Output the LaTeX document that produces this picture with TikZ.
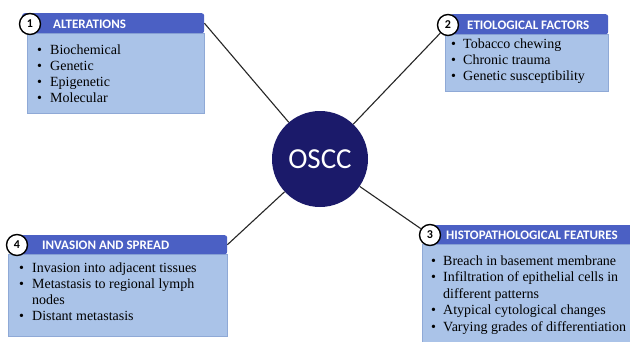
\documentclass[tikz,border=0pt]{standalone}
\usepackage{fontspec}
\setmainfont{Liberation Serif}
\newfontfamily\hdrfont{Carlito}
\definecolor{hdrblue}{HTML}{4B60C4}
\definecolor{bodyblue}{HTML}{AAC3E8}
\definecolor{bodyedge}{HTML}{8FA9D6}
\definecolor{navy}{HTML}{1B1A6A}
\newcommand\bul[1]{\makebox[#1][l]{\textbullet}}
\tikzset{
  hdrbar/.style={draw=none, fill=hdrblue, rounded corners=2.5pt, inner sep=0, anchor=north west},
  bodybox/.style={fill=bodyblue, draw=bodyedge, line width=0.6pt, inner sep=0, anchor=north west},
  hdrtxt/.style={text=white, font=\hdrfont\bfseries\fontsize{13}{15}\selectfont, inner sep=0, anchor=base west},
  itemtxt/.style={font=\fontsize{14}{16}\selectfont, inner sep=0, anchor=base west},
  numcirc/.style={circle, draw=black, line width=1.4pt, fill=white, minimum size=21pt, inner sep=0, font=\hdrfont\bfseries\fontsize{12}{12}\selectfont},
  link/.style={draw=black!85, line width=1.1pt},
  core/.style={circle, fill=navy, minimum size=96pt, inner sep=0, text=white, font=\hdrfont\fontsize{29}{30}\selectfont},
}
\begin{document}
\begin{tikzpicture}[x=1pt,y=-1pt]
\useasboundingbox[fill=white] (0,0) rectangle (630,341);

% central node
\node[core] (oscc) at (320,159) {OSCC};

% Box 1
\node[bodybox, minimum width=177pt, minimum height=80pt] (b1) at (27,33) {};
\node[hdrbar, minimum width=182pt, minimum height=20pt] (h1) at (22,13) {};
\node[hdrtxt] (t1) at (53,28) {ALTERATIONS};
\node[itemtxt] (i11) at (37,54) {\bul{13pt}Biochemical};
\node[itemtxt] (i12) at (37,70) {\bul{13pt}Genetic};
\node[itemtxt] (i13) at (37,86) {\bul{13pt}Epigenetic};
\node[itemtxt] (i14) at (37,102) {\bul{13pt}Molecular};
\node[numcirc] (n1) at (30,24) {1};

% Box 2
\node[bodybox, minimum width=163pt, minimum height=57pt] (b2) at (445,34) {};
\node[hdrbar, minimum width=158pt, minimum height=20pt] (h2) at (450,14) {};
\node[hdrtxt] (t2) at (467,29) {ETIOLOGICAL FACTORS};
\node[itemtxt] (i21) at (451,48) {\bul{12pt}Tobacco chewing};
\node[itemtxt] (i22) at (451,64) {\bul{12pt}Chronic trauma};
\node[itemtxt] (i23) at (451,80) {\bul{12pt}Genetic susceptibility};
\node[numcirc] (n2) at (448,25) {2};

% Box 3
\node[bodybox, minimum width=210pt, minimum height=100pt] (b3) at (422,244) {};
\node[hdrbar, minimum width=200pt, minimum height=19pt] (h3) at (432,225) {};
\node[hdrtxt] (t3) at (446,239) {HISTOPATHOLOGICAL FEATURES};
\node[itemtxt] (i31) at (431,265) {\bul{12pt}Breach in basement membrane};
\node[itemtxt] (i32) at (431,281.5) {\bul{12pt}Infiltration of epithelial cells in};
\node[itemtxt] (i33) at (431,298) {\hspace*{12pt}different patterns};
\node[itemtxt] (i34) at (431,314.5) {\bul{12pt}Atypical cytological changes};
\node[itemtxt] (i35) at (431,331) {\bul{12pt}Varying grades of differentiation};
\node[numcirc] (n3) at (430,235) {3};

% Box 4
\node[bodybox, minimum width=219pt, minimum height=82pt] (b4) at (8,254) {};
\node[hdrbar, minimum width=217pt, minimum height=19pt] (h4) at (10,235) {};
\node[hdrtxt] (t4) at (42,249.5) {INVASION AND SPREAD};
\node[itemtxt] (i41) at (19,272) {\bul{13pt}Invasion into adjacent tissues};
\node[itemtxt] (i42) at (19,288) {\bul{13pt}Metastasis to regional lymph};
\node[itemtxt] (i43) at (19,304) {\hspace*{13pt}nodes};
\node[itemtxt] (i44) at (19,320) {\bul{13pt}Distant metastasis};
\node[numcirc] (n4) at (17,245) {4};

% connectors
\draw[link] (h1.east) -- (oscc);
\draw[link] (n2) -- (oscc);
\draw[link] (n3) -- (oscc);
\draw[link] (h4.east) -- (oscc);
\end{tikzpicture}
\end{document}
